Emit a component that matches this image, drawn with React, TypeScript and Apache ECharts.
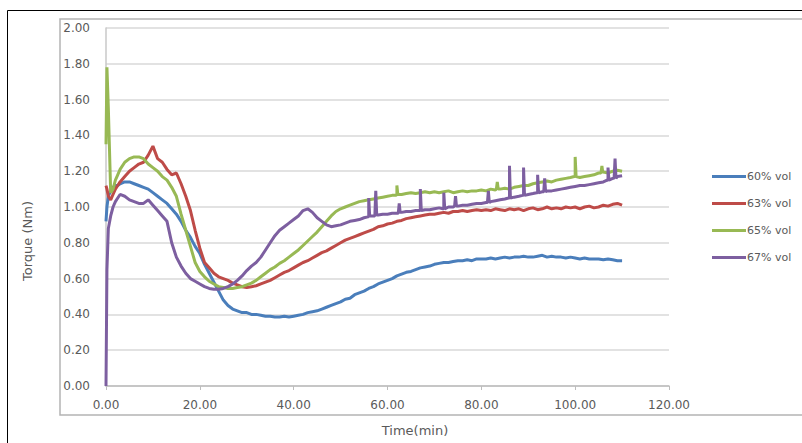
import React, { useEffect, useRef } from "react";
import * as echarts from "echarts";

const seriesNames = ["60% vol", "63% vol", "65% vol", "67% vol"];
const seriesColors = ["#4A7EBB", "#BE4B48", "#98B954", "#7D5FA0"];

const time = [
  0, 0.2, 0.5, 1, 1.5, 2, 2.5, 3, 4, 5, 6, 7, 8, 9, 10, 11, 12, 13, 14, 15, 16, 17, 18, 19, 20,
  21, 22, 23, 24, 25, 26, 27, 28, 29, 30, 31, 32, 33, 34, 35, 36, 37, 38, 39, 40, 41, 42, 43, 44, 45,
  46, 47, 48, 49, 50, 51, 52, 53, 54, 55, 56, 57, 58, 59, 60, 61, 62, 63, 64, 65, 66, 67, 68, 69, 70,
  71, 72, 73, 74, 75, 76, 77, 78, 79, 80, 81, 82, 83, 84, 85, 86, 87, 88, 89, 90, 91, 92, 93, 94, 95,
  96, 97, 98, 99, 100, 101, 102, 103, 104, 105, 106, 107, 108, 109, 110,
];

const vol60 = [
  0.92, 1.0, 1.06, 1.09, 1.11, 1.12, 1.12, 1.13, 1.14, 1.14, 1.13, 1.12, 1.11, 1.1, 1.08, 1.06, 1.04, 1.02, 0.99, 0.96, 0.92, 0.87, 0.83, 0.78, 0.74,
  0.68, 0.63, 0.58, 0.53, 0.48, 0.45, 0.43, 0.42, 0.41, 0.41, 0.4, 0.4, 0.395, 0.39, 0.39, 0.385, 0.385, 0.39, 0.385, 0.39, 0.395, 0.4, 0.41, 0.415, 0.42,
  0.43, 0.44, 0.45, 0.46, 0.47, 0.485, 0.49, 0.51, 0.52, 0.53, 0.545, 0.555, 0.57, 0.58, 0.59, 0.6, 0.615, 0.625, 0.635, 0.64, 0.65, 0.66, 0.665, 0.67, 0.68,
  0.685, 0.69, 0.69, 0.695, 0.7, 0.7, 0.705, 0.7, 0.71, 0.71, 0.71, 0.715, 0.71, 0.715, 0.72, 0.715, 0.72, 0.72, 0.725, 0.72, 0.72, 0.725, 0.73, 0.72, 0.725,
  0.72, 0.72, 0.715, 0.72, 0.715, 0.71, 0.715, 0.71, 0.71, 0.71, 0.705, 0.71, 0.705, 0.7, 0.7,
];

const vol63 = [
  1.12, 1.1, 1.06, 1.04, 1.07, 1.1, 1.12, 1.14, 1.17, 1.2, 1.22, 1.24, 1.25, 1.29, 1.34, 1.27, 1.25, 1.21, 1.18, 1.19, 1.13, 1.06, 0.98, 0.87, 0.77,
  0.69, 0.66, 0.63, 0.61, 0.6, 0.59, 0.575, 0.565, 0.555, 0.55, 0.555, 0.56, 0.57, 0.58, 0.59, 0.605, 0.62, 0.635, 0.645, 0.66, 0.675, 0.69, 0.7, 0.715, 0.73,
  0.745, 0.755, 0.77, 0.785, 0.8, 0.815, 0.825, 0.835, 0.845, 0.855, 0.865, 0.875, 0.89, 0.895, 0.905, 0.91, 0.92, 0.925, 0.935, 0.94, 0.945, 0.95, 0.955, 0.96, 0.96,
  0.965, 0.97, 0.965, 0.975, 0.975, 0.98, 0.975, 0.98, 0.985, 0.98, 0.985, 0.98, 0.99, 0.985, 0.98, 0.99, 0.985, 0.99, 0.98, 0.99, 0.995, 0.985, 0.99, 1.0, 0.99,
  0.995, 0.99, 1.0, 0.995, 1.0, 0.99, 1.0, 1.005, 0.995, 1.0, 1.01, 1.005, 1.015, 1.02, 1.01,
];

const vol65 = [
  1.35, 1.78, 1.55, 1.08, 1.1, 1.15, 1.18, 1.21, 1.25, 1.27, 1.28, 1.28, 1.27, 1.24, 1.22, 1.2, 1.17, 1.15, 1.11, 1.06, 0.96, 0.87, 0.78, 0.69, 0.64,
  0.61, 0.585, 0.57, 0.555, 0.55, 0.545, 0.545, 0.55, 0.555, 0.565, 0.575, 0.59, 0.61, 0.63, 0.65, 0.665, 0.685, 0.7, 0.72, 0.74, 0.76, 0.785, 0.81, 0.835, 0.86,
  0.89, 0.92, 0.95, 0.975, 0.99, 1.0, 1.01, 1.02, 1.03, 1.035, 1.04, 1.045, 1.05, 1.055, 1.06, 1.065, 1.07, 1.07, 1.075, 1.08, 1.075, 1.08, 1.085, 1.08, 1.085,
  1.08, 1.085, 1.09, 1.08, 1.085, 1.09, 1.085, 1.09, 1.09, 1.095, 1.09, 1.1, 1.095, 1.1, 1.105, 1.1, 1.11, 1.115, 1.12, 1.12, 1.13, 1.135, 1.14, 1.145, 1.14,
  1.15, 1.155, 1.16, 1.165, 1.17, 1.165, 1.17, 1.175, 1.18, 1.19, 1.195, 1.19, 1.2, 1.205, 1.2,
];

const vol67 = [
  0.0, 0.65, 0.88, 0.95, 1.0, 1.03, 1.05, 1.07, 1.06, 1.04, 1.03, 1.02, 1.02, 1.04, 1.01, 0.98, 0.95, 0.92, 0.8, 0.72, 0.67, 0.63, 0.6, 0.585, 0.57,
  0.555, 0.545, 0.54, 0.54, 0.545, 0.555, 0.57, 0.59, 0.615, 0.645, 0.67, 0.69, 0.72, 0.76, 0.8, 0.84, 0.87, 0.89, 0.91, 0.93, 0.95, 0.98, 0.99, 0.97, 0.94,
  0.92, 0.9, 0.89, 0.895, 0.9, 0.91, 0.92, 0.925, 0.93, 0.94, 0.945, 0.95, 0.955, 0.96, 0.96, 0.965, 0.965, 0.97, 0.975, 0.975, 0.98, 0.98, 0.985, 0.985, 0.99,
  0.995, 0.99, 1.0, 1.0, 1.005, 1.01, 1.01, 1.015, 1.02, 1.02, 1.025, 1.03, 1.035, 1.04, 1.045, 1.05, 1.055, 1.06, 1.065, 1.07, 1.075, 1.08, 1.085, 1.09, 1.09,
  1.095, 1.1, 1.105, 1.11, 1.115, 1.12, 1.12, 1.125, 1.13, 1.135, 1.14, 1.15, 1.16, 1.17, 1.175,
];

// narrow spikes (shoulder, peak, shoulder)
const spike65Time = [61.8, 62, 62.2, 83.2, 83.4, 83.6, 99.8, 100, 100.2, 105.5, 105.7, 105.9];
const spike65Value = [1.065, 1.12, 1.07, 1.1, 1.14, 1.1, 1.17, 1.28, 1.17, 1.19, 1.23, 1.19];

const spike67Time = [
  55.8, 56, 56.2, 57.3, 57.5, 57.7, 62.3, 62.5, 62.7, 66.8, 67, 67.2, 71.8, 72, 72.2, 74.3, 74.5, 74.7,
  81.3, 81.5, 81.7, 85.8, 86, 86.2, 88.8, 89, 89.2, 91.8, 92, 92.2, 93.3, 93.5, 93.7, 106.8, 107, 107.2, 108.3, 108.5, 108.7,
];
const spike67Value = [
  0.945, 1.05, 0.95, 0.95, 1.09, 0.955, 0.965, 1.02, 0.97, 0.98, 1.1, 0.98, 0.99, 1.08, 0.99, 1.005, 1.06, 1.005,
  1.025, 1.09, 1.025, 1.05, 1.23, 1.05, 1.065, 1.22, 1.065, 1.08, 1.18, 1.08, 1.085, 1.16, 1.085, 1.15, 1.22, 1.15, 1.16, 1.27, 1.16,
];

const xTicks = { min: 0, max: 120, interval: 20 };
const yTicks = { min: 0, max: 2, interval: 0.2 };

function buildData(values: number[], extraT: number[] = [], extraV: number[] = []) {
  const pts: [number, number][] = time.map((t, i) => [t, values[i]]);
  extraT.forEach((t, i) => pts.push([t, extraV[i]]));
  pts.sort((a, b) => a[0] - b[0]);
  return pts;
}

export default function App() {
  const ref = useRef<HTMLDivElement>(null);
  useEffect(() => {
    if (!ref.current) return;
    const chart = echarts.init(ref.current, undefined, { renderer: "svg" });
    const font = "DejaVu Sans";
    const datasets = [
      buildData(vol60),
      buildData(vol63),
      buildData(vol65, spike65Time, spike65Value),
      buildData(vol67, spike67Time, spike67Value),
    ];
    chart.setOption({
      animation: false,
      backgroundColor: "#ffffff",
      textStyle: { fontFamily: font },
      grid: { left: 106, top: 28, right: 133, bottom: 57, containLabel: false },
      xAxis: {
        type: "value",
        min: xTicks.min,
        max: xTicks.max,
        interval: xTicks.interval,
        axisLine: { show: true, lineStyle: { color: "#bdbdbd", width: 1.5 } },
        axisTick: { show: true, length: 4, lineStyle: { color: "#bdbdbd" } },
        splitLine: { show: false },
        axisLabel: {
          formatter: (v: number) => v.toFixed(2),
          color: "#5a5a5a",
          fontSize: 12,
          fontFamily: font,
          margin: 13,
        },
      },
      yAxis: {
        type: "value",
        min: yTicks.min,
        max: yTicks.max,
        interval: yTicks.interval,
        axisLine: { show: true, lineStyle: { color: "#c8c8c8", width: 1.5 } },
        axisTick: { show: false },
        splitLine: { show: true, lineStyle: { color: "#d9d9d9", width: 1.5 } },
        axisLabel: {
          formatter: (v: number) => v.toFixed(2),
          color: "#5a5a5a",
          fontSize: 12,
          fontFamily: font,
          margin: 16,
        },
      },
      legend: {
        orient: "vertical",
        left: 707,
        top: 165,
        icon: "rect",
        itemWidth: 34,
        itemHeight: 3,
        itemGap: 14,
        textStyle: { color: "#5a5a5a", fontSize: 11, fontFamily: font, padding: [0, 0, 0, -4], lineHeight: 13 },
        data: seriesNames,
      },
      series: seriesNames.map((name, i) => ({
        name,
        type: "line",
        data: datasets[i],
        symbol: "none",
        showSymbol: false,
        smooth: false,
        color: seriesColors[i],
        lineStyle: { color: seriesColors[i], width: 3 },
        z: 2 + i,
      })),
      graphic: [
        {
          type: "rect",
          silent: true,
          shape: { x: 7.5, y: 10.5, width: 820, height: 460 },
          style: { fill: "none", stroke: "#000000", lineWidth: 1 },
        },
        {
          type: "rect",
          silent: true,
          shape: { x: 60, y: 19, width: 800, height: 396 },
          style: { fill: "none", stroke: "#b4b4b4", lineWidth: 1.5 },
        },
        {
          type: "text",
          silent: true,
          x: 415,
          y: 430,
          style: {
            text: "Time(min)",
            fill: "#5a5a5a",
            font: `13px "${font}"`,
            align: "center",
            verticalAlign: "middle",
          },
        },
        {
          type: "text",
          silent: true,
          x: 27,
          y: 241,
          rotation: Math.PI / 2,
          style: {
            text: "Torque (Nm)",
            fill: "#5a5a5a",
            font: `13px "${font}"`,
            align: "center",
            verticalAlign: "middle",
          },
        },
      ],
    });
    return () => chart.dispose();
  }, []);
  return <div ref={ref} style={{ width: 802, height: 443, position: "fixed", left: 0, top: 0 }} />;
}
